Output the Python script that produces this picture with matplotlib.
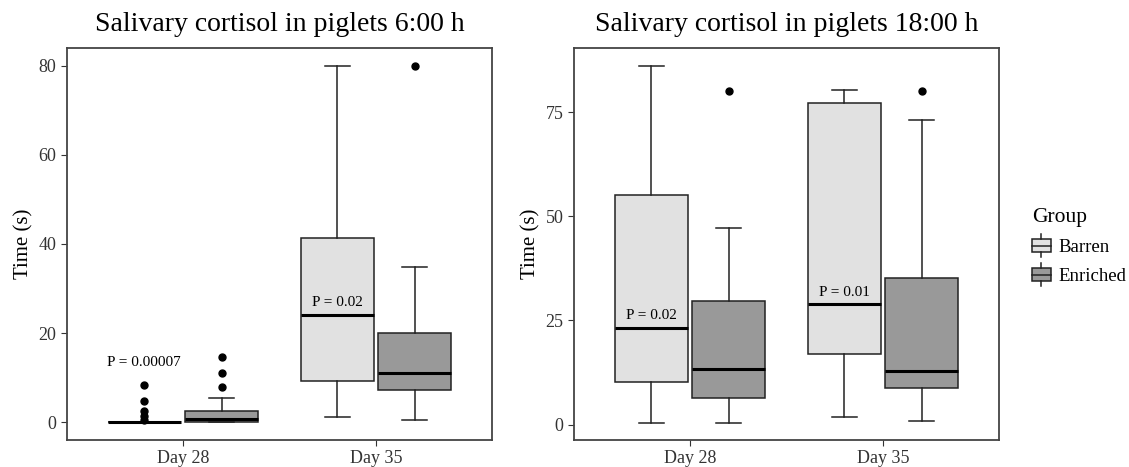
import matplotlib
matplotlib.use('Agg')
from matplotlib import pyplot as plt
from matplotlib.legend_handler import HandlerBase
from matplotlib.patches import Rectangle, Patch
from matplotlib.lines import Line2D

plt.rcParams['font.family'] = ['Liberation Serif', 'DejaVu Serif']

days = ['Day 28', 'Day 35']
groups = ['Barren', 'Enriched']
fills = ['#e1e1e1', '#999999']

# box stats per day: [whislo, q1, med, q3, whishi]
am_barren = [[0, 0, 0, 0, 0], [1.2, 9.2, 24.1, 41.3, 80]]
am_enriched = [[0, 0, 0.75, 2.6, 5.5], [0.6, 7.2, 11.1, 20.0, 34.8]]
am_barren_out = [[0.6, 1.4, 2.4, 4.8, 8.3], []]
am_enriched_out = [[7.8, 11.1, 14.7], [80]]

pm_barren = [[0.5, 10.2, 23.2, 55.1, 86.1], [1.8, 17.0, 28.9, 77.3, 80.3]]
pm_enriched = [[0.5, 6.3, 13.4, 29.7, 47.2], [0.9, 8.7, 12.8, 35.1, 73.2]]
pm_barren_out = [[], []]
pm_enriched_out = [[80], [80]]

# p-value labels: (x position in day units, y, text)
am_pvals = [(0.8, 12.0, 'P = 0.00007'), (1.8, 25.4, 'P = 0.02')]
pm_pvals = [(0.8, 24.6, 'P = 0.02'), (1.8, 30.2, 'P = 0.01')]

am_ticks = [0, 20, 40, 60, 80]
pm_ticks = [0, 25, 50, 75]


def make_stats(rows, outs):
    st = []
    for r, o in zip(rows, outs):
        st.append(dict(whislo=r[0], q1=r[1], med=r[2], q3=r[3], whishi=r[4], fliers=o))
    return st


def draw_panel(ax, barren, enriched, b_out, e_out, pvals, ticks, title):
    for gi, (rows, outs) in enumerate([(barren, b_out), (enriched, e_out)]):
        pos = [i + 1 + (gi - 0.5) * 0.4 for i in range(len(days))]
        ax.bxp(make_stats(rows, outs), positions=pos, widths=0.38, patch_artist=True,
               capwidths=0.13, manage_ticks=False,
               boxprops=dict(facecolor=fills[gi], edgecolor='#222222', linewidth=1.1),
               medianprops=dict(color='black', linewidth=2.2),
               whiskerprops=dict(color='#222222', linewidth=1.1),
               capprops=dict(color='#222222', linewidth=1.1),
               flierprops=dict(marker='o', markerfacecolor='black', markeredgecolor='black',
                               markersize=5))
    for x, y, t in pvals:
        ax.text(x, y, t, ha='center', va='bottom', fontsize=11)
    ax.set_xlim(0.4, 2.6)
    ax.set_xticks([1, 2])
    ax.set_xticklabels(days)
    ax.set_yticks(ticks)
    ax.set_ylabel('Time (s)', fontsize=15)
    ax.set_title(title, fontsize=20, pad=12)
    ax.tick_params(labelsize=13, length=4, color='#333333', labelcolor='#333333')
    for s in ax.spines.values():
        s.set_color('#444444')
        s.set_linewidth(1.3)


class BoxHandler(HandlerBase):
    def create_artists(self, legend, orig_handle, xdescent, ydescent, width, height, fontsize, trans):
        cx = -xdescent + width / 2
        y0 = -ydescent
        r = Rectangle((-xdescent, y0 + height * 0.1), width, height * 0.8,
                      facecolor=orig_handle.get_facecolor(), edgecolor='#222222', lw=1.1,
                      transform=trans)
        m = Line2D([-xdescent, -xdescent + width], [y0 + height / 2] * 2, color='#222222', lw=1.1,
                   transform=trans)
        t = Line2D([cx, cx], [y0 + height * 0.9, y0 + height * 1.2], color='#222222', lw=1.1,
                   transform=trans)
        b = Line2D([cx, cx], [y0 + height * 0.1, y0 - height * 0.2], color='#222222', lw=1.1,
                   transform=trans)
        return [r, m, t, b]


fig = plt.figure(figsize=(11.29, 4.67), dpi=100)
W, H = 1129, 467
ax1 = fig.add_axes([67 / W, (H - 440) / H, 425 / W, 392 / H])
ax2 = fig.add_axes([574 / W, (H - 440) / H, 425 / W, 392 / H])

draw_panel(ax1, am_barren, am_enriched, am_barren_out, am_enriched_out, am_pvals, am_ticks,
           'Salivary cortisol in piglets 6:00 h')
ax1.set_ylim(-4, 84)
draw_panel(ax2, pm_barren, pm_enriched, pm_barren_out, pm_enriched_out, pm_pvals, pm_ticks,
           'Salivary cortisol in piglets 18:00 h')
ax2.set_ylim(-3.7, 90.4)

handles = [Patch(facecolor=c) for c in fills]
leg = fig.legend(handles, groups, title='Group', loc='upper left',
                 bbox_to_anchor=(1015 / W, 1 - 191 / H), frameon=False,
                 handler_map={Patch: BoxHandler()}, fontsize=13.5, title_fontsize=15.5,
                 handlelength=1.0, handleheight=1.0, handletextpad=0.4, labelspacing=0.55)
leg._legend_box.align = 'left'

fig.savefig('out.png', dpi=100)
